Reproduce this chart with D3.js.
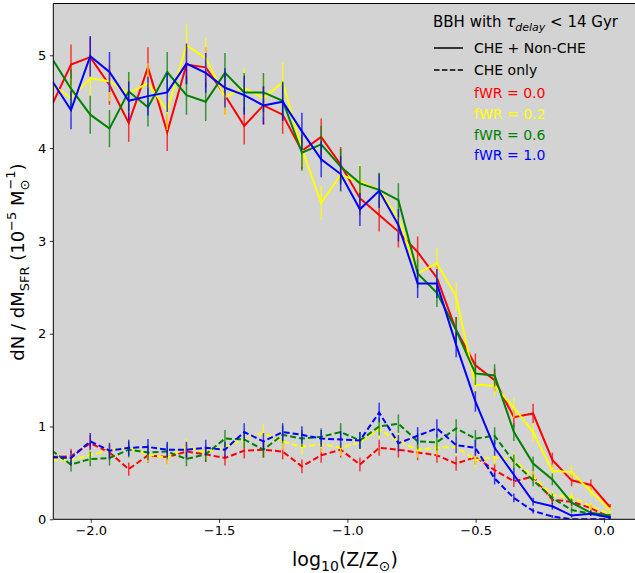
<!DOCTYPE html>
<html><head><meta charset="utf-8">
<script src="https://cdn.jsdelivr.net/npm/d3@7"></script>
<style>body{margin:0;background:#fff}svg{display:block;font-family:"DejaVu Sans",sans-serif}</style>
</head><body>
<svg id="c" width="635" height="573"></svg>
<script>
// log10(Z/Zsun) bin centres
const logZ = [-2.152,-2.077,-2.002,-1.927,-1.852,-1.777,-1.702,-1.627,-1.552,-1.477,-1.402,-1.327,-1.252,-1.177,-1.102,-1.026,-0.951,-0.876,-0.801,-0.726,-0.651,-0.576,-0.501,-0.426,-0.351,-0.276,-0.201,-0.126,-0.051,0.024];
// CHE + Non-CHE (solid)
const redSolid    = [4.46,4.90,4.98,4.68,4.27,4.87,4.17,4.90,4.87,4.57,4.24,4.46,4.36,3.97,4.12,3.82,3.46,3.28,3.10,2.88,2.60,2.04,1.66,1.50,1.10,1.14,0.64,0.42,0.37,0.13];
const yellowSolid = [4.68,4.54,4.75,4.72,4.59,4.70,4.40,5.11,4.97,4.55,4.65,4.54,4.71,3.99,3.41,3.71,3.64,3.55,3.25,2.65,2.76,2.40,1.45,1.44,1.20,0.94,0.52,0.51,0.30,0.10];
const greenSolid  = [4.97,4.64,4.36,4.21,4.61,4.44,4.82,4.57,4.50,4.81,4.60,4.60,4.51,3.95,4.04,3.80,3.62,3.55,3.44,2.65,2.44,2.04,1.57,1.55,0.94,0.60,0.43,0.18,0.07,0.04];
const blueSolid   = [4.73,4.41,4.99,4.82,4.51,4.56,4.60,4.91,4.81,4.65,4.57,4.46,4.50,4.18,3.88,3.72,3.34,3.54,3.17,2.54,2.54,1.88,1.27,0.77,0.48,0.19,0.14,0.04,0.06,0.02];
// CHE only (dashed)
const redDash     = [0.67,0.68,0.82,0.72,0.54,0.69,0.67,0.73,0.70,0.66,0.74,0.75,0.73,0.57,0.69,0.75,0.59,0.77,0.75,0.72,0.69,0.60,0.67,0.53,0.41,0.46,0.21,0.19,0.12,0.02];
const yellowDash  = [0.64,0.64,0.69,0.75,0.77,0.70,0.66,0.78,0.72,0.78,0.86,0.93,0.84,0.78,0.81,0.77,0.83,0.97,0.84,0.75,0.77,0.78,0.64,0.67,0.64,0.46,0.26,0.24,0.14,0.06];
const greenDash   = [0.74,0.59,0.65,0.66,0.75,0.72,0.73,0.65,0.70,0.87,0.86,0.75,0.91,0.87,0.89,0.94,0.85,1.00,1.03,0.84,0.83,0.98,0.87,0.90,0.62,0.42,0.23,0.10,0.06,0.02];
const blueDash    = [0.67,0.66,0.84,0.74,0.77,0.78,0.75,0.75,0.77,0.75,0.94,0.84,0.94,0.91,0.87,0.86,0.85,1.15,0.82,0.90,0.98,0.80,0.77,0.44,0.23,0.09,0.03,0.00,0.00,0.00];
// Poisson-like error scale (bar half-length = k*sqrt(value))
const errK = 0.098;
const fwrLabels = ["fWR = 0.0","fWR = 0.2","fWR = 0.6","fWR = 1.0"];
const colors = ["#ff0000","#ffff00","#008000","#0000ff"];
const xTicks = [-2.0,-1.5,-1.0,-0.5,0.0];
const yTicks = [0,1,2,3,4,5];

const solids = [redSolid,yellowSolid,greenSolid,blueSolid];
const dashes = [redDash,yellowDash,greenDash,blueDash];

const L=53.3, R=636, T=3.5, B=519.3;
const svg = d3.select("#c");
const x = d3.scaleLinear().domain([-2.146,0.125]).range([L,R]);
const y = d3.scaleLinear().domain([0,5.558]).range([B,T]);

svg.append("rect").attr("x",L).attr("y",T).attr("width",R-L).attr("height",B-T).attr("fill","#d3d3d3");
svg.append("defs").append("clipPath").attr("id","clip").append("rect")
  .attr("x",L).attr("y",T).attr("width",R-L).attr("height",B-T);
const plot = svg.append("g").attr("clip-path","url(#clip)");

const line = d3.line().x((d,i)=>x(logZ[i])).y(d=>y(d));
function series(vals,color,dashed){
  const g = plot.append("g");
  g.append("path").datum(vals).attr("d",line).attr("fill","none")
    .attr("stroke",color).attr("stroke-width",2)
    .attr("stroke-dasharray",dashed?"6,3":null);
  g.selectAll("line").data(vals).join("line")
    .attr("x1",(d,i)=>x(logZ[i])).attr("x2",(d,i)=>x(logZ[i]))
    .attr("y1",d=>y(d+errK*Math.sqrt(d))).attr("y2",d=>y(d-errK*Math.sqrt(d)))
    .attr("stroke",color).attr("stroke-width",1.5).attr("stroke-opacity",0.75);
}
for(let k=0;k<4;k++){ series(solids[k],colors[k],false); series(dashes[k],colors[k],true); }

// axes
const xa = svg.append("g").attr("transform",`translate(0,${B})`)
  .call(d3.axisBottom(x).tickValues(xTicks).tickFormat(d=>d3.format(".1f")(d).replace("-","−")).tickSize(3.5).tickSizeOuter(0));
const ya = svg.append("g").attr("transform",`translate(${L},0)`)
  .call(d3.axisLeft(y).tickValues(yTicks).tickFormat(d3.format("d")).tickSize(3.5).tickSizeOuter(0));
[xa,ya].forEach(a=>{
  a.select(".domain").remove();
  a.selectAll(".tick line").attr("stroke","#000").attr("stroke-width",0.8);
  a.selectAll(".tick text").attr("font-size",13).attr("fill","#000").attr("font-family","DejaVu Sans");
});
xa.selectAll(".tick text").attr("dy","0.71em").attr("y",6.5);
ya.selectAll(".tick text").attr("x",-7);
svg.append("path").attr("d",`M${R},${T}H${L}V${B}H${R}`).attr("fill","none").attr("stroke","#000").attr("stroke-width",1);

// axis labels
const xl = svg.append("text").attr("x",345).attr("y",566).attr("text-anchor","middle").attr("font-size",19);
xl.append("tspan").text("log");
xl.append("tspan").attr("font-size",14).attr("dy",5).text("10");
xl.append("tspan").attr("dy",-5).text("(Z/Z");
xl.append("tspan").attr("font-size",14).attr("dy",5).text("⊙");
xl.append("tspan").attr("dy",-5).text(")");

const yl = svg.append("text").attr("transform","translate(24,262) rotate(-90)").attr("text-anchor","middle").attr("font-size",18);
yl.append("tspan").text("dN / dM");
yl.append("tspan").attr("font-size",13).attr("dy",5).text("SFR");
yl.append("tspan").attr("dy",-5).text(" (10");
yl.append("tspan").attr("font-size",13).attr("dy",-8).text("−5");
yl.append("tspan").attr("dy",8).text(" M");
yl.append("tspan").attr("font-size",13).attr("dy",5).text("⊙");
yl.append("tspan").attr("font-size",13).attr("dx",-10).attr("dy",-14).text("−1");
yl.append("tspan").attr("dy",9).text(")");

// legend
const lt = svg.append("text").attr("x",433).attr("y",27).attr("font-size",15);
lt.append("tspan").text("BBH with ");
lt.append("tspan").attr("font-style","italic").text("τ");
lt.append("tspan").attr("font-style","italic").attr("font-size",11).attr("dy",4).text("delay");
lt.append("tspan").attr("dy",-4).text(" < 14 Gyr");
svg.append("line").attr("x1",434).attr("x2",463).attr("y1",48).attr("y2",48).attr("stroke","#000").attr("stroke-width",1.5);
svg.append("line").attr("x1",434).attr("x2",463).attr("y1",70).attr("y2",70).attr("stroke","#000").attr("stroke-width",1.5).attr("stroke-dasharray","5.5,2.4");
svg.append("text").attr("x",474).attr("y",53).attr("font-size",14).text("CHE + Non-CHE");
svg.append("text").attr("x",474).attr("y",75).attr("font-size",14).text("CHE only");
const ly=[98,119,140,160];
fwrLabels.forEach((t,i)=>svg.append("text").attr("x",474).attr("y",ly[i]).attr("font-size",14).attr("fill",colors[i]).text(t));
</script>
</body></html>
